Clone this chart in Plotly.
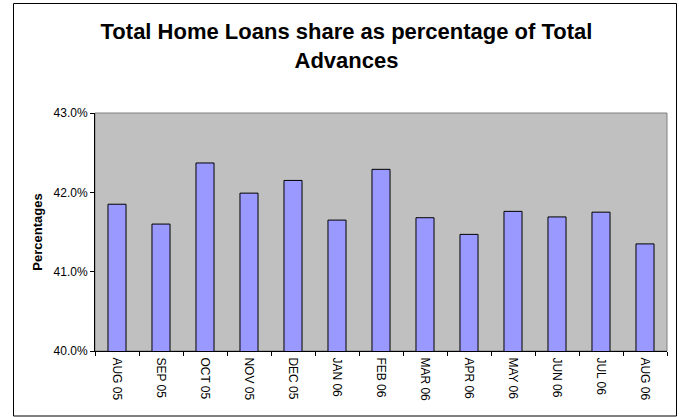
import plotly.graph_objects as go

months = ["AUG 05", "SEP 05", "OCT 05", "NOV 05", "DEC 05", "JAN 06", "FEB 06",
          "MAR 06", "APR 06", "MAY 06", "JUN 06", "JUL 06", "AUG 06"]
share_pct = [41.85, 41.60, 42.37, 41.99, 42.15, 41.65, 42.29,
             41.68, 41.47, 41.76, 41.69, 41.75, 41.35]
y_ticks = [40.0, 41.0, 42.0, 43.0]
y_tick_labels = ["40.0%", "41.0%", "42.0%", "43.0%"]

title_text = "Total Home Loans share as percentage of Total<br>Advances"
y_title = "Percentages"

FONT = "Arial, 'Liberation Sans', sans-serif"

W, H = 679, 417
L, R, T, B = 95, 12, 113, 66
pw, ph = W - L - R, H - T - B

def px_x(x):
    return (x - L) / pw

def px_y(y):
    return (H - B - y) / ph

fig = go.Figure()
fig.add_trace(go.Bar(
    x=months, y=share_pct,
    marker=dict(color="#9999FF", line=dict(color="#000000", width=1)),
))

fig.update_layout(
    width=W, height=H,
    margin=dict(l=L, r=R, t=T, b=B, autoexpand=False),
    paper_bgcolor="#FFFFFF",
    plot_bgcolor="#C0C0C0",
    bargap=0.59,
    showlegend=False,
    font=dict(family=FONT, color="#000000", size=12),
    title=dict(
        text=title_text,
        x=(346.5) / W, xanchor="center",
        y=1 - 39 / H, yanchor="top", yref="container",
        font=dict(family=FONT, size=22, color="#000000", weight="bold"),
    ),
    xaxis=dict(
        type="category",
        showgrid=False,
        showline=True, linecolor="#000000", linewidth=1,
        ticks="outside", ticklen=4, tickcolor="#000000",
        tickson="boundaries",
        tickangle=90,
        ticklabelstandoff=3,
        tickfont=dict(family=FONT, size=12, color="#000000"),
        fixedrange=True,
    ),
    yaxis=dict(
        range=[40, 43],
        tickmode="array",
        tickvals=y_ticks,
        ticktext=y_tick_labels,
        showgrid=False, zeroline=False,
        showline=True, linecolor="#000000", linewidth=1,
        ticks="outside", ticklen=4, tickcolor="#000000",
        tickfont=dict(family=FONT, size=12, color="#000000"),
        title=dict(text=y_title, standoff=8,
                   font=dict(family=FONT, size=13, color="#000000", weight="bold")),
        fixedrange=True,
    ),
    shapes=[
        dict(type="rect", xref="paper", yref="paper", x0=0, x1=1, y0=0, y1=1,
             line=dict(color="#808080", width=1), layer="below"),
        dict(type="rect", xref="paper", yref="paper",
             x0=px_x(13.5), x1=px_x(676.5), y0=px_y(416), y1=px_y(3.5),
             line=dict(color="#000000", width=1), layer="above"),
    ],
)

fig.write_html("out.html")
